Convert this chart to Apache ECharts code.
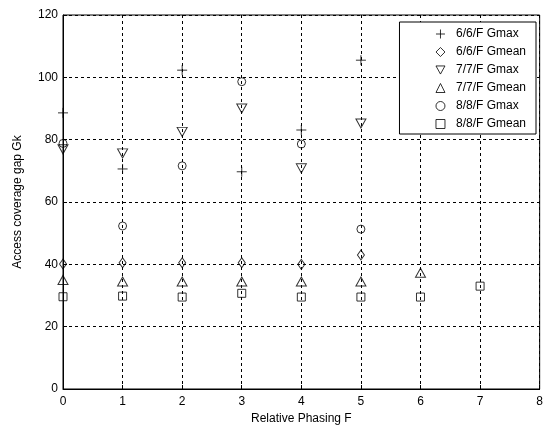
<!DOCTYPE html>
<html><head><meta charset="utf-8">
<script src="https://cdn.jsdelivr.net/npm/echarts@6/dist/echarts.min.js"></script>
<style>html,body{margin:0;padding:0;background:#fff}#c{width:546px;height:430px}</style>
</head><body><div id="c"></div>
<script>
const xTicks = [0,1,2,3,4,5,6,7,8];
const yTicks = [0,20,40,60,80,100,120];
const seriesNames = ['6/6/F Gmax','6/6/F Gmean','7/7/F Gmax','7/7/F Gmean','8/8/F Gmax','8/8/F Gmean'];
const g6max  = [[0,88.6],[1,70.6],[2,102.3],[3,69.7],[4,83.1],[5,105.5]];
const g6mean = [[0,40.1],[1,40.5],[2,40.5],[3,40.5],[4,40.0],[5,43.0]];
const g7max  = [[0,76.9],[1,75.6],[2,82.5],[3,90.0],[4,70.8],[5,85.2]];
const g7mean = [[0,35.0],[1,34.5],[2,34.5],[3,34.5],[4,34.5],[5,34.5],[6,37.3]];
const g8max  = [[0,78.8],[1,52.3],[2,71.6],[3,98.6],[4,78.6],[5,51.3]];
const g8mean = [[0,29.6],[1,29.8],[2,29.5],[3,30.7],[4,29.5],[5,29.5],[6,29.5],[7,33.0]];

const FONT = 'Liberation Sans, Arial, sans-serif';
const symbols = [
  {s:'path://M5,0V10M0,5H10', size:10},
  {s:'diamond', size:[7,10]},
  {s:'path://M0,0L10,0L5,9Z', size:[10,9]},
  {s:'triangle', size:[10,9]},
  {s:'circle', size:8},
  {s:'rect', size:8}
];
const datas = [g6max,g6mean,g7max,g7mean,g8max,g8mean];
const series = datas.map((d,i)=>({
  name: seriesNames[i], type:'scatter', data:d,
  symbol: symbols[i].s, symbolSize: symbols[i].size,
  itemStyle:{color:'rgba(0,0,0,0)', borderColor:'#000', borderWidth:1},
  emphasis:{disabled:true}
}));
const chart = echarts.init(document.getElementById('c'), null, {renderer:'canvas'});
chart.setOption({
  animation:false,
  backgroundColor:'#fff',
  textStyle:{fontFamily:FONT},
  grid:{left:63, top:15, right:3, bottom:41, show:true, borderColor:'#000', borderWidth:1},
  legend:{
    orient:'vertical', right:10, top:22,
    data: seriesNames,
    backgroundColor:'#fff', borderColor:'#000', borderWidth:1,
    padding:[6,10,4,36], itemGap:6, itemWidth:9, itemHeight:9,
    textStyle:{fontFamily:FONT, fontSize:12, color:'#000', padding:[0,0,0,6]},
    itemStyle:{borderWidth:1},
    selectedMode:false
  },
  xAxis:{
    type:'value', min:0, max:8, interval:1,
    name:'Relative Phasing F', nameLocation:'middle', nameGap:16,
    nameTextStyle:{fontFamily:FONT, fontSize:12, color:'#000'},
    axisLine:{show:true, lineStyle:{color:'#000'}},
    axisTick:{show:true, inside:true, length:4, lineStyle:{color:'#000'}},
    axisLabel:{fontFamily:FONT, fontSize:12, color:'#000', margin:7,
      formatter:v=>xTicks.includes(v)?String(v):''},
    splitLine:{show:true, lineStyle:{color:'#000', type:[3,3], width:1}}
  },
  yAxis:{
    type:'value', min:0, max:120, interval:20,
    name:'Access coverage gap Gk', nameLocation:'middle', nameGap:39,
    nameTextStyle:{fontFamily:FONT, fontSize:12, color:'#000'},
    axisLine:{show:true, lineStyle:{color:'#000'}},
    axisTick:{show:true, inside:true, length:4, lineStyle:{color:'#000'}},
    axisLabel:{fontFamily:FONT, fontSize:12, color:'#000', margin:5,
      formatter:v=>yTicks.includes(v)?String(v):''},
    splitLine:{show:true, lineStyle:{color:'#000', type:[3,3], width:1}}
  },
  series: series
});
</script></body></html>
